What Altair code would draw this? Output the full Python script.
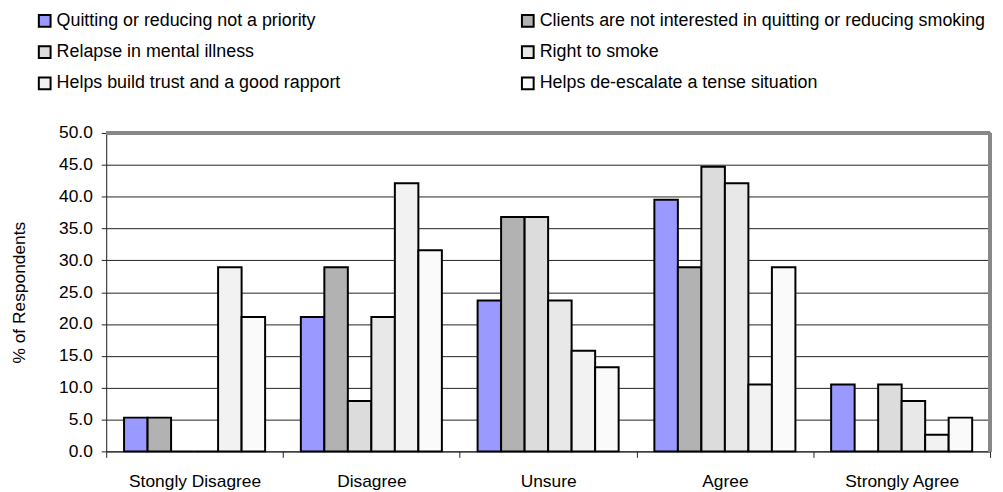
import altair as alt
import pandas as pd

categories = ["Stongly Disagree", "Disagree", "Unsure", "Agree", "Strongly Agree"]
series = [
    "Quitting or reducing not a priority",
    "Clients are not interested in quitting or reducing smoking",
    "Relapse in mental illness",
    "Right to smoke",
    "Helps build trust and a good rapport",
    "Helps de-escalate a tense situation",
]
quitting = [5.3, 21.1, 23.7, 39.5, 10.5]
clients = [5.3, 28.9, 36.8, 28.9, 0.0]
relapse = [0.0, 7.9, 36.8, 44.7, 10.5]
right = [0.0, 21.1, 23.7, 42.1, 7.9]
trust = [28.9, 42.1, 15.8, 10.5, 2.6]
deesc = [21.1, 31.6, 13.2, 28.9, 5.3]
colors = ["#9999FF", "#B2B2B2", "#DCDCDC", "#E8E8E8", "#F2F2F2", "#FAFAFA"]

rows = []
for s, vals in zip(series, [quitting, clients, relapse, right, trust, deesc]):
    for c, v in zip(categories, vals):
        rows.append({"cat": c, "series": s, "value": v})
df = pd.DataFrame(rows)

W, H = 891, 321
FONT = "Liberation Sans"
AX = 17.5

bars = alt.Chart(df).mark_bar(stroke="black", strokeWidth=2).encode(
    x=alt.X("cat:N", sort=categories, title=None,
            scale=alt.Scale(paddingInner=0, paddingOuter=0),
            axis=alt.Axis(labelAngle=0, tickBand="extent", labelFontSize=AX,
                          labelFont=FONT, labelColor="black", labelPadding=15,
                          tickSize=6, tickColor="#222", domainColor="#222",
                          grid=False)),
    xOffset=alt.XOffset("series:N", sort=series,
                        scale=alt.Scale(paddingInner=0, paddingOuter=0.76)),
    y=alt.Y("value:Q", title="% of Respondents",
            scale=alt.Scale(domain=[0, 50], nice=False),
            axis=alt.Axis(values=[0, 5, 10, 15, 20, 25, 30, 35, 40, 45, 50],
                          format=".1f", labelFontSize=AX, labelFont=FONT,
                          labelColor="black", labelPadding=9, tickSize=5,
                          tickColor="#222", domainColor="#222",
                          gridColor="#222", gridWidth=1, gridOpacity=1,
                          titleFont=FONT, titleFontSize=AX,
                          titleFontWeight="normal", titlePadding=30,
                          titleColor="black")),
    color=alt.Color("series:N", sort=series,
                    scale=alt.Scale(domain=series, range=colors),
                    legend=alt.Legend(title=None, orient="none",
                                      direction="horizontal",
                                      legendX=-71, legendY=-122,
                                      columns=2, columnPadding=178,
                                      rowPadding=11.5, symbolType="square",
                                      symbolSize=140, symbolStrokeColor="black",
                                      symbolStrokeWidth=2, labelFontSize=18,
                                      labelFont=FONT, labelColor="black",
                                      labelLimit=600, symbolOffset=0,
                                      labelOffset=3)),
)

top_border = alt.Chart(df).mark_rule(color="#888888", strokeWidth=3).encode(
    x=alt.value(0), x2=alt.value(W), y=alt.value(0))
right_border = alt.Chart(df).mark_rule(color="#888888", strokeWidth=3).encode(
    x=alt.value(W), y=alt.value(0), y2=alt.value(H))

chart = alt.layer(bars, top_border, right_border).properties(
    width=W, height=H,
    autosize=alt.AutoSizeParams(type="none"),
    padding={"left": 99, "top": 124, "right": 5, "bottom": 42},
).configure_view(stroke=None).configure(background="white")

chart.save("out.html", embed_options={"renderer": "svg", "actions": False})
